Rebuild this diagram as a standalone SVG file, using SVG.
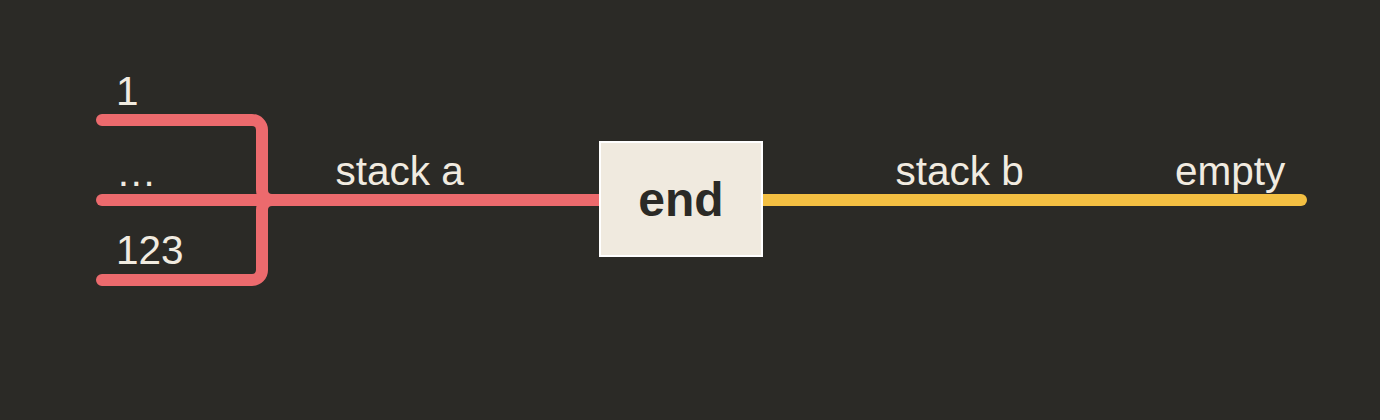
<svg xmlns="http://www.w3.org/2000/svg" width="1380" height="420" viewBox="0 0 1380 420">
<style>
.lbl{font-family:"Liberation Sans",Arial,sans-serif;font-size:40.5px;fill:#f1ebe0}
.red{fill:none;stroke:#ec6a6d;stroke-width:12;stroke-linecap:round;stroke-linejoin:round}
.yel{fill:none;stroke:#f3bf42;stroke-width:12;stroke-linecap:round}
.box{fill:#f0eadf;stroke:#ffffff;stroke-width:2}
.title{font-family:"Liberation Sans",Arial,sans-serif;font-size:48px;font-weight:bold;fill:#2b2a26}
</style>
<rect width="1380" height="420" fill="#2b2a26"/>
<g id="connectors">
<path class="red" d="M102,120 H252 A10,10 0 0 1 262,130 V190 A10,10 0 0 0 272,200 H600"/>
<path class="red" d="M102,280 H252 A10,10 0 0 0 262,270 V210 A10,10 0 0 1 272,200 H600"/>
<path class="red" d="M102,200 H600"/>
<path class="yel" d="M762,200 H1301"/>
</g>
<g id="labels">
<text class="lbl" x="116" y="105">1</text>
<text class="lbl" x="116" y="186">…</text>
<text class="lbl" x="116" y="264">123</text>
<text class="lbl" x="335.5" y="185">stack a</text>
<text class="lbl" x="895.5" y="185">stack b</text>
<text class="lbl" x="1175" y="185">empty</text>
</g>
<g id="node-end">
<rect class="box" x="600" y="142" width="162" height="114"/>
<text class="title" x="681" y="216" text-anchor="middle">end</text>
</g>
</svg>
